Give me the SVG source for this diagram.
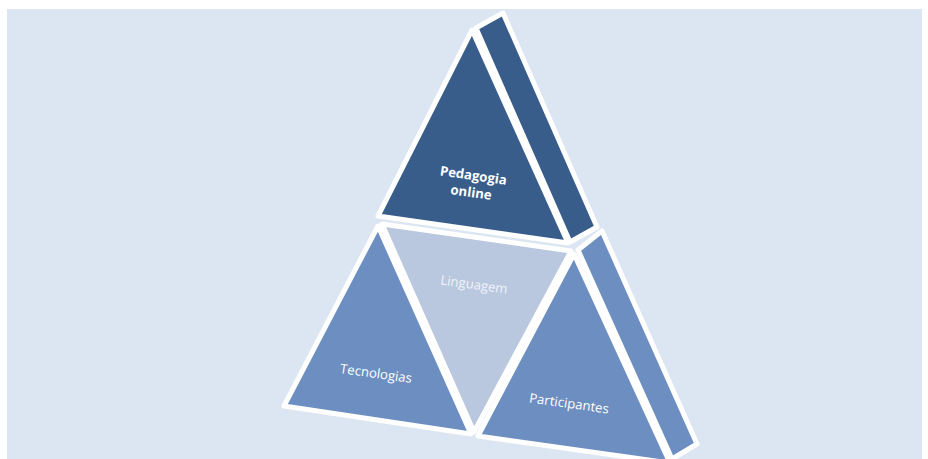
<svg xmlns="http://www.w3.org/2000/svg" width="928" height="459" viewBox="0 0 928 459">
<style>
.f{stroke:#ffffff;stroke-width:5;stroke-linejoin:round}
.dark{fill:#385d8a}
.mid{fill:#6d8ec0}
.light{fill:#b9c7df}
.t{font-family:"Open Sans","Liberation Sans",sans-serif;font-size:13.2px;fill:#ffffff;text-anchor:middle}
.b{font-weight:bold}
</style>
<rect x="0" y="0" width="928" height="459" fill="#ffffff"/>
<rect x="7" y="9" width="915" height="450" fill="#dce6f2"/>
<g id="top-side"><polygon class="f dark" points="476,28 503,13 597,227 570,242"/></g>
<g id="bottom-side"><polygon class="f mid" points="578,250 602,231 697,444 672,459"/></g>
<g id="pedagogia">
<polygon class="f dark" points="472,30 378,216 568,243"/>
<g transform="rotate(8 472 186)">
<text class="t b" x="472" y="180">Pedagogia</text>
<text class="t b" x="472" y="197">online</text>
</g>
</g>
<g id="linguagem">
<polygon class="f light" points="382,224 571,251 474,432"/>
<text class="t" x="474" y="289" transform="rotate(8 474 285)" style="fill:#f0f3f9">Linguagem</text>
</g>
<g id="tecnologias">
<polygon class="f mid" points="378,226 284,406 471,434"/>
<text class="t" x="376" y="378" transform="rotate(8 376 374)">Tecnologias</text>
</g>
<g id="participantes">
<polygon class="f mid" points="574,254 478,436 670,463"/>
<text class="t" x="569" y="408" transform="rotate(8 569 404)">Participantes</text>
</g>
<g id="connectors"></g>
</svg>
